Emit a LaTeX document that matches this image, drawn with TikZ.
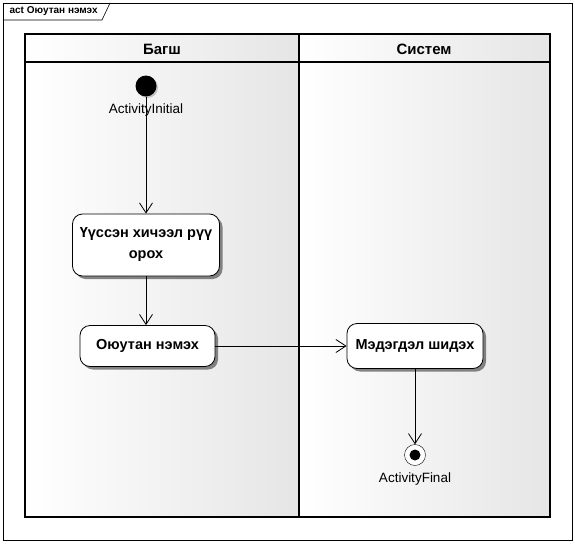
\documentclass[tikz,border=0pt]{standalone}
\usepackage{fontspec}
\setmainfont{Liberation Sans}
\usetikzlibrary{arrows.meta, positioning, shadows}

\begin{document}
\begin{tikzpicture}[
    x=1pt, y=-1pt,
    lane/.style={left color=white, right color=black!10},
    header/.style={font=\fontsize{15pt}{18pt}\selectfont\bfseries},
    action/.style={
        rectangle,
        rounded corners=10pt,
        draw=black,
        fill=white,
        line width=0.8pt,
        align=center,
        font=\fontsize{14.5pt}{21pt}\selectfont\bfseries,
        drop shadow={shadow xshift=3pt, shadow yshift=-3pt, fill=black!60, opacity=0.8}
    },
    initial/.style={circle, fill=black, minimum size=21pt, inner sep=0pt},
    final/.style={
        circle, draw=black, fill=white, minimum size=21pt, inner sep=0pt,
        path picture={\fill[black] (path picture bounding box.center) circle (5.5pt);}
    },
    caption/.style={font=\fontsize{13.5pt}{15pt}\selectfont, inner sep=1pt},
    flow/.style={-{Straight Barb[length=10pt, width=13pt, line width=0.8pt]}, line width=0.8pt}
]
\useasboundingbox (0,0) rectangle (575,543);

% frame
\draw[line width=0.6pt] (3,3) rectangle (572,540);
\draw[line width=0.6pt] (3,20) -- (102,20) -- (110,3);
\node[font=\fontsize{10pt}{12pt}\selectfont\bfseries, anchor=west] (title) at (6,11) {act Оюутан нэмэх};

% swimlanes
\shade[lane] (25,34) rectangle (299,62);
\shade[lane] (299,34) rectangle (550,62);
\shade[lane] (25,62) rectangle (299,517);
\shade[lane] (299,62) rectangle (550,517);
\draw[line width=1.2pt] (25,34) rectangle (550,517);
\draw[line width=1.2pt] (25,62) -- (550,62);
\draw[line width=2pt] (299,34) -- (299,517);
\node[header] (teacher) at (162,49) {Багш};
\node[header] (system) at (424,49) {Систем};

% nodes
\node[initial, drop shadow={shadow xshift=1.5pt, shadow yshift=-1.5pt, fill=black!40}] (start) at (146,86) {};
\node[caption, below=6pt of start] (startlabel) {ActivityInitial};
\node[action, minimum width=147pt, minimum height=62pt] (created) at (146,245) {Үүссэн хичээл рүү\\орох};
\node[action, minimum width=135pt, minimum height=41pt] (addstudent) at (147.5,346) {Оюутан нэмэх};
\node[action, minimum width=136pt, minimum height=45pt] (notify) at (415,346) {Мэдэгдэл шидэх};
\node[final] (end) at (415,455) {};
\node[caption, below=6pt of end] (endlabel) {ActivityFinal};

% flows
\draw[flow] (start) -- (created);
\draw[flow] (created) -- (created |- addstudent.north);
\draw[flow] (addstudent.east) -- (notify.west);
\draw[flow] (notify) -- (end);

\end{tikzpicture}
\end{document}
